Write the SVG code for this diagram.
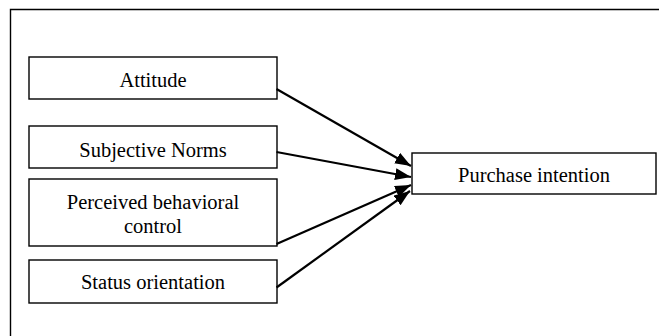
<svg xmlns="http://www.w3.org/2000/svg" width="659" height="336" viewBox="0 0 659 336">
<style>
.box{fill:#fff;stroke:#000;stroke-width:1.4}
.lbl{font-family:"Liberation Serif","Times New Roman",serif;font-size:20.5px;fill:#000;text-anchor:middle}
.edge{stroke:#000;stroke-width:2.2;fill:none;marker-end:url(#ah)}
</style>
<defs>
<marker id="ah" markerUnits="userSpaceOnUse" markerWidth="17" markerHeight="13" refX="16" refY="6" orient="auto">
<path d="M0,0 L16,6 L0,12 Z" fill="#000"/>
</marker>
</defs>
<rect x="0" y="0" width="659" height="336" fill="#fff"/>
<path d="M10.5,336 V9.5 H659" fill="none" stroke="#000" stroke-width="1.4"/>
<g id="attitude">
<rect class="box" x="29" y="57" width="248" height="42"/>
<text class="lbl" x="153" y="86.5">Attitude</text>
</g>
<g id="subjective-norms">
<rect class="box" x="29" y="126" width="248" height="42"/>
<text class="lbl" x="153" y="156.5">Subjective Norms</text>
</g>
<g id="perceived-behavioral-control">
<rect class="box" x="29" y="179" width="248" height="67"/>
<text class="lbl" x="153" y="209">Perceived behavioral</text>
<text class="lbl" x="153" y="232.5">control</text>
</g>
<g id="status-orientation">
<rect class="box" x="29" y="260" width="248" height="43"/>
<text class="lbl" x="153" y="289">Status orientation</text>
</g>
<g id="purchase-intention">
<rect class="box" x="412" y="153" width="244" height="41"/>
<text class="lbl" x="534" y="182">Purchase intention</text>
</g>
<g id="connectors">
<line class="edge" x1="276.5" y1="89" x2="411" y2="166"/>
<line class="edge" x1="276.5" y1="152" x2="411" y2="177"/>
<line class="edge" x1="276.5" y1="244" x2="411" y2="185"/>
<line class="edge" x1="276.5" y1="287.5" x2="410" y2="191"/>
</g>
</svg>
